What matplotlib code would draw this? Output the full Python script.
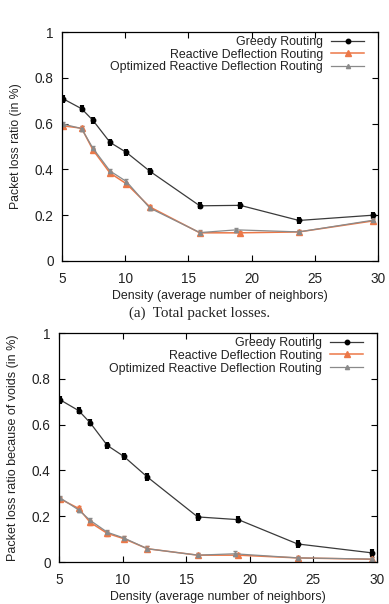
import numpy as np
import matplotlib
matplotlib.use("Agg")
import matplotlib.pyplot as plt
from matplotlib.lines import Line2D

# densities (average number of neighbors)
x_greedy = [5.1, 6.55, 7.45, 8.8, 10.1, 11.95, 15.9, 19.1, 23.75, 29.6]
x_opt = [5.1, 6.55, 7.45, 8.8, 10.1, 11.95, 15.9, 18.8, 23.75, 29.6]

# (a) total packet losses
total_greedy = [0.708, 0.665, 0.614, 0.518, 0.474, 0.392, 0.241, 0.243, 0.177, 0.200]
total_reactive = [0.590, 0.580, 0.485, 0.384, 0.337, 0.236, 0.123, 0.123, 0.127, 0.175]
total_opt = [0.598, 0.578, 0.492, 0.393, 0.347, 0.231, 0.124, 0.136, 0.127, 0.178]

# (b) losses because of voids
void_greedy = [0.708, 0.661, 0.608, 0.509, 0.461, 0.371, 0.197, 0.185, 0.079, 0.040]
void_reactive = [0.275, 0.234, 0.173, 0.125, 0.102, 0.058, 0.030, 0.030, 0.018, 0.012]
void_opt = [0.280, 0.227, 0.182, 0.130, 0.105, 0.058, 0.030, 0.036, 0.018, 0.013]

err_greedy = 0.016
err_other = 0.01

names = ["Greedy Routing", "Reactive Deflection Routing",
         "Optimized Reactive Deflection Routing"]

c_greedy = "#3a3a3a"
c_react = "#ec7848"
c_opt = "#8a8a8a"

plt.rcParams['font.family'] = ['Liberation Sans', 'DejaVu Sans']

fig = plt.figure(figsize=(3.89, 6.04), dpi=100)
ax1 = fig.add_axes([0.1594, 0.5679, 0.8123, 0.3791])
ax2 = fig.add_axes([0.1517, 0.0695, 0.8175, 0.3791])


def draw(ax, g, r, o, ylab, ylab_size):
    ax.errorbar(x_greedy, g, yerr=err_greedy, color=c_greedy, lw=0.9,
                marker="o", ms=3.2, mfc="black", mec="black",
                ecolor="black", elinewidth=3.0, capsize=0)
    ax.errorbar(x_greedy, r, yerr=err_other, color=c_react, lw=1.1,
                marker="^", ms=4, mfc=c_react, mec=c_react,
                ecolor=c_react, elinewidth=1.2, capsize=1.5)
    ax.errorbar(x_opt, o, yerr=err_other, color=c_opt, lw=0.9,
                marker="^", ms=3, mfc=c_opt, mec=c_opt,
                ecolor=c_opt, elinewidth=1.0, capsize=1.5)
    ax.set_xlim(5, 30)
    ax.set_ylim(0, 1)
    ax.set_xticks([5, 10, 15, 20, 25, 30])
    ax.set_yticks([0, 0.2, 0.4, 0.6, 0.8, 1])
    ax.set_yticklabels(["0", "0.2", "0.4", "0.6", "0.8", "1"])
    ax.tick_params(direction="in", top=True, right=True, length=4,
                   width=0.8, labelsize=9.8, labelcolor="#222222")
    ax.tick_params(axis="x", pad=8)
    ax.tick_params(axis="y", pad=6)
    for s in ax.spines.values():
        s.set_linewidth(0.9)
    ax.set_xlabel("Density (average number of neighbors)", fontsize=8.9,
                  color="#222222", labelpad=3)
    ax.set_ylabel(ylab, fontsize=ylab_size, color="#222222", labelpad=9)
    handles = [
        Line2D([], [], color=c_greedy, lw=0.9, marker="o", ms=3.2,
               mfc="black", mec="black"),
        Line2D([], [], color=c_react, lw=1.1, marker="^", ms=4,
               mfc=c_react, mec=c_react),
        Line2D([], [], color=c_opt, lw=0.9, marker="^", ms=3,
               mfc=c_opt, mec=c_opt),
    ]
    leg = ax.legend(handles, names, loc="upper right",
                    bbox_to_anchor=(1 - 14 / 316, 1 - 4 / 229),
                    frameon=False, markerfirst=False, fontsize=8.9,
                    handlelength=2.65, handletextpad=0.65, labelspacing=0.06,
                    borderpad=0, borderaxespad=0)
    for t in leg.get_texts():
        t.set_ha("right")
        t.set_color("#222222")


draw(ax1, total_greedy, total_reactive, total_opt,
     "Packet loss ratio (in %)", 8.8)
draw(ax2, void_greedy, void_reactive, void_opt,
     "Packet loss ratio because of voids (in %)", 9.0)

fig.text(0.512, 0.481, "(a)  Total packet losses.", ha="center", va="center",
         fontsize=10.8, family="Liberation Serif", color="#222222")

fig.savefig("out.png", dpi=100)
